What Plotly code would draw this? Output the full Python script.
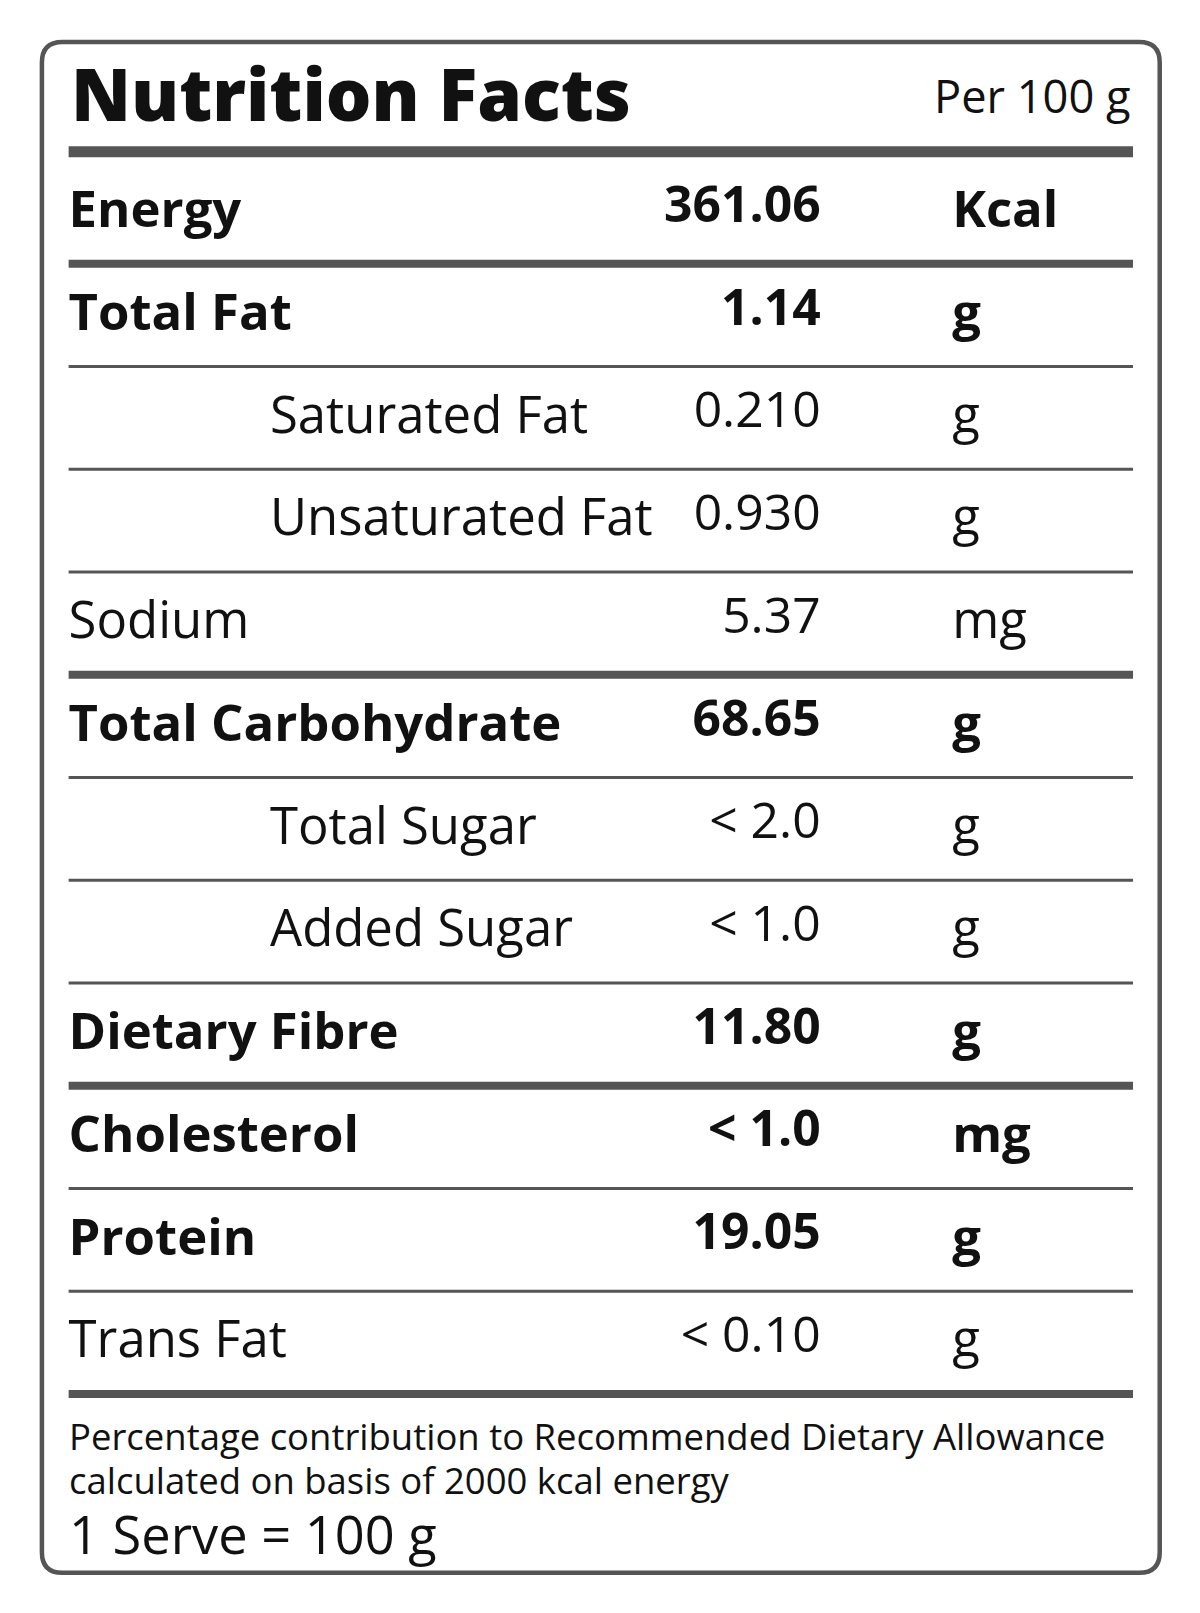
import plotly.graph_objects as go

# nutrition rows
labels = ["Energy", "Total Fat", "Saturated Fat", "Unsaturated Fat", "Sodium",
          "Total Carbohydrate", "Total Sugar", "Added Sugar", "Dietary Fibre",
          "Cholesterol", "Protein", "Trans Fat"]
values = ["361.06", "1.14", "0.210", "0.930", "5.37", "68.65", "< 2.0", "< 1.0",
          "11.80", "< 1.0", "19.05", "< 0.10"]
units = ["Kcal", "g", "g", "g", "mg", "g", "g", "g", "g", "mg", "g", "g"]
bold = [1, 1, 0, 0, 0, 1, 0, 0, 1, 1, 1, 0]
indent = [0, 0, 1, 1, 0, 0, 1, 1, 0, 0, 0, 0]
thick_after = [1, 0, 0, 0, 1, 0, 0, 0, 1, 0, 0, 1]

W, H = 1168, 1570  # drawing units (scaled to 1200x1613 px)
OFF = 7
k = 1200 / W
INK = "#111111"
LINE = "#555555"
FONT = "Open Sans"


def fs(px):
    return px * k


def b(s, on):
    return f"<b>{s}</b>" if on else s


row_y = [208 + 100 * i for i in range(len(labels))]

fig = go.Figure()
fig.add_trace(go.Scatter(
    x=[262 if ind else 66 for ind in indent], y=row_y, mode="text",
    text=[b(t, on) for t, on in zip(labels, bold)], textposition="middle right",
    textfont=dict(family=FONT, size=fs(49.5), color=INK), hoverinfo="skip"))
fig.add_trace(go.Scatter(
    x=[798] * len(values), y=[y - 5 for y in row_y], mode="text",
    text=[b(t, on) for t, on in zip(values, bold)], textposition="middle left",
    textfont=dict(family=FONT, size=fs(48.5), color=INK), hoverinfo="skip"))
fig.add_trace(go.Scatter(
    x=[926] * len(units), y=row_y, mode="text",
    text=[b(t, on) for t, on in zip(units, bold)], textposition="middle right",
    textfont=dict(family=FONT, size=fs(49.5), color=INK), hoverinfo="skip"))

shapes = [dict(type="path", xref="x", yref="y",
               path="M 60,40 L 1108,40 Q 1128,40 1128,60 L 1128,1510 Q 1128,1530 1108,1530 "
                    "L 60,1530 Q 40,1530 40,1510 L 40,60 Q 40,40 60,40 Z",
               line=dict(color=LINE, width=4.5))]
shapes.append(dict(type="line", x0=66, x1=1102, y0=147, y1=147,
                   line=dict(color=LINE, width=11)))
for y, t in zip(row_y, thick_after):
    yl = y + 48
    shapes.append(dict(type="line", x0=66, x1=1102, y0=yl, y1=yl,
                       line=dict(color=LINE, width=8 if t else 3)))

annotations = [
    dict(x=66, y=90, text="Nutrition Facts", xanchor="left",
         font=dict(family=FONT, size=fs(70), color=INK, weight=800)),
    dict(x=1102, y=92, text="Per 100 g", xanchor="right",
         font=dict(family=FONT, size=fs(44), color=INK)),
    dict(x=64, y=1397, text="Percentage contribution to Recommended Dietary Allowance",
         xanchor="left", font=dict(family=FONT, size=fs(35.5), color=INK)),
    dict(x=64, y=1440, text="calculated on basis of 2000 kcal energy",
         xanchor="left", font=dict(family=FONT, size=fs(35.5), color=INK)),
    dict(x=64, y=1492, text="1 Serve = 100 g", xanchor="left",
         font=dict(family=FONT, size=fs(51), color=INK)),
]
for a in annotations:
    a.update(xref="x", yref="y", showarrow=False, yanchor="middle")

fig.update_layout(
    width=1200, height=1613, margin=dict(l=0, r=0, t=0, b=0),
    paper_bgcolor="white", plot_bgcolor="white", showlegend=False,
    xaxis=dict(range=[OFF, W + OFF], visible=False, fixedrange=True),
    yaxis=dict(range=[H + OFF, OFF], visible=False, fixedrange=True),
    shapes=shapes, annotations=annotations,
)
fig.write_html("out.html")
